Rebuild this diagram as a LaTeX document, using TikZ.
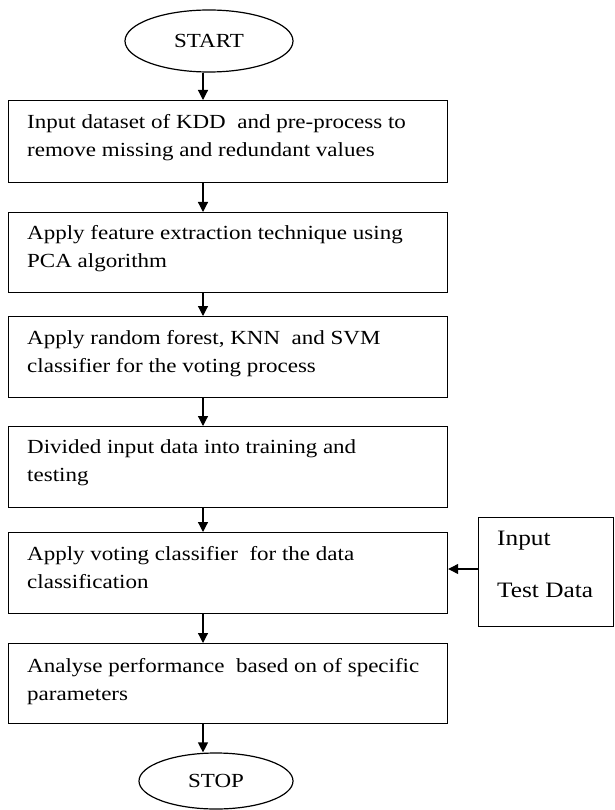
\documentclass[tikz,border=0pt]{standalone}
\usepackage{fontspec}
\setmainfont{Liberation Serif}[FakeStretch=1.15]
\usetikzlibrary{shapes.geometric,arrows.meta}
\begin{document}
\begin{tikzpicture}[x=1pt,y=-1pt,
  stepbox/.style={draw, line width=1.2pt, minimum width=439pt, inner sep=0pt, anchor=north west},
  term/.style={draw, ellipse, line width=1.2pt, inner sep=0pt, font=\fontsize{20}{24}\selectfont},
  txt/.style={anchor=base west, align=left, inner sep=0pt, font=\fontsize{20}{28}\selectfont},
  arr/.style={line width=1.2pt, -{Triangle[length=10pt,width=10pt]}}]
\useasboundingbox[fill=white] (0,0) rectangle (614,810);
\coordinate (ax) at (203,0);
% terminals
\node[term, minimum width=168pt, minimum height=62pt] (start) at (209,41) {START};
\node[term, minimum width=154pt, minimum height=56pt] (stop) at (216,781) {STOP};
% process boxes
\node[stepbox, minimum height=82pt] (b1) at (8,100) {};
\node[stepbox, minimum height=80pt] (b2) at (8,212) {};
\node[stepbox, minimum height=81pt] (b3) at (8,316) {};
\node[stepbox, minimum height=81pt] (b4) at (8,426) {};
\node[stepbox, minimum height=81pt] (b5) at (8,532) {};
\node[stepbox, minimum height=80pt] (b6) at (8,643) {};
\node[draw, line width=1.2pt, minimum width=135pt, minimum height=109pt, inner sep=0pt, anchor=north west] (inp) at (478,517) {};
% texts (base anchor = baseline of the last line)
\node[txt] (t1) at ([shift={(19,57)}]b1.north west) {Input dataset of KDD\ \ and pre-process to\\remove missing and redundant values};
\node[txt] (t2) at ([shift={(19,55)}]b2.north west) {Apply feature extraction technique using\\PCA algorithm};
\node[txt] (t3) at ([shift={(19,56)}]b3.north west) {Apply random forest, KNN\ \ and SVM\\classifier for the voting process};
\node[txt] (t4) at ([shift={(19,55)}]b4.north west) {Divided input data into training and\\testing};
\node[txt] (t5) at ([shift={(19,56)}]b5.north west) {Apply voting classifier\ \ for the data\\classification};
\node[txt] (t6) at ([shift={(19,57)}]b6.north west) {Analyse performance\ \ based on of specific\\parameters};
\node[anchor=base west, inner sep=0pt, font=\fontsize{22}{24}\selectfont] (i1) at (497,545) {Input};
\node[anchor=base west, inner sep=0pt, font=\fontsize{22}{24}\selectfont] (i2) at (497,597) {Test Data};
% connectors
\draw[arr] (start.south -| ax) -- (b1.north -| ax);
\draw[arr] (b1.south -| ax) -- (b2.north -| ax);
\draw[arr] (b2.south -| ax) -- (b3.north -| ax);
\draw[arr] (b3.south -| ax) -- (b4.north -| ax);
\draw[arr] (b4.south -| ax) -- (b5.north -| ax);
\draw[arr] (b5.south -| ax) -- (b6.north -| ax);
\draw[arr] (b6.south -| ax) -- (stop.north -| ax);
\coordinate (ay) at (0,569);
\draw[arr] (inp.west |- ay) -- (b5.east |- ay);
\end{tikzpicture}
\end{document}
